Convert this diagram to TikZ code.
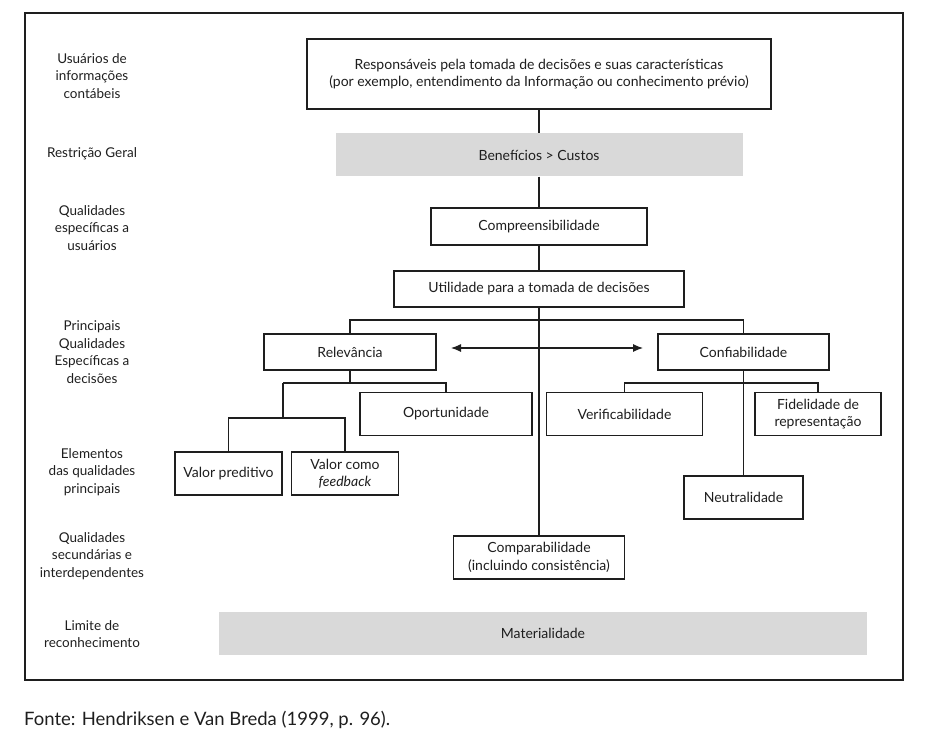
\documentclass[tikz,border=0pt]{standalone}
\usepackage{fontspec}
\setmainfont{Lato}
\usetikzlibrary{arrows.meta}
\definecolor{boxgray}{RGB}{217,217,217}
\definecolor{ink}{RGB}{30,30,30}
\tikzset{
  box/.style={draw=ink, line width=1.1pt, fill=white, align=center, inner sep=0pt, font=\fontsize{14}{17.5}\selectfont, text=ink},
  graybox/.style={fill=boxgray, align=center, inner sep=0pt, font=\fontsize{14}{17.5}\selectfont, text=ink},
  lab/.style={align=center, font=\fontsize{13.5}{17.7}\selectfont, text=ink},
  conn/.style={draw=ink, line width=1.1pt},
}
\begin{document}
\begin{tikzpicture}[x=1pt,y=-1pt]
\useasboundingbox (0,0) rectangle (947,738);
\draw[ink, line width=1.1pt] (25,13) rectangle (903,680);
% left labels
\node[lab] (l1) at (92,76) {Usuários de\\informações\\contábeis};
\node[lab] (l2) at (92,154) {Restrição Geral};
\node[lab] (l3) at (92,228) {Qualidades\\específicas a\\usuários};
\node[lab] (l4) at (92,352) {Principais\\Qualidades\\Específicas a\\decisões};
\node[lab] (l5) at (92,472) {Elementos\\das qualidades\\principais};
\node[lab] (l6) at (92,556) {Qualidades\\secundárias e\\interdependentes};
\node[lab] (l7) at (92,634) {Limite de\\reconhecimento};
% boxes
\node[box, minimum width=464, minimum height=70] (top) at (539,74) {Responsáveis pela tomada de decisões e suas características\\(por exemplo, entendimento da Informação ou conhecimento prévio)};
\node[graybox, minimum width=407, minimum height=43] (ben) at (539,155) {Benefícios > Custos};
\node[box, minimum width=216, minimum height=37] (compr) at (539,226.5) {Compreensibilidade};
\node[box, minimum width=290, minimum height=36] (util) at (539,289) {Utilidade para a tomada de decisões};
\node[box, minimum width=172, minimum height=36] (rel) at (350,352) {Relevância};
\node[box, minimum width=171, minimum height=36] (conf) at (743.5,352) {Confiabilidade};
\node[box, minimum width=172, minimum height=43] (opor) at (446,414) {Oportunidade};
\node[box, minimum width=107, minimum height=43] (vp) at (228.5,473.5) {Valor preditivo};
\node[box, minimum width=107, minimum height=43] (fb) at (345,473.5) {Valor como\\\textit{feedback}};
\node[box, minimum width=156, minimum height=43] (verif) at (624.5,414) {Verificabilidade};
\node[box, minimum width=126, minimum height=43] (fid) at (818,414) {Fidelidade de\\representação};
\node[box, minimum width=119, minimum height=43] (neut) at (743.5,497.5) {Neutralidade};
\node[box, minimum width=171, minimum height=43] (comp) at (539,557.5) {Comparabilidade\\(incluindo consistência)};
\node[graybox, minimum width=648, minimum height=43] (mat) at (543,633.5) {Materialidade};
% connectors
\draw[conn] (top) -- (ben);
\draw[conn] (ben) -- (compr);
\draw[conn] (compr) -- (util);
\draw[conn] (util.south) -- (comp.north);
\coordinate (j1) at (539,320);
\draw[conn] (rel.north) |- (j1) -| (conf.north);
\coordinate (aL) at (451,348);
\coordinate (aR) at (643,348);
\draw[conn, {Latex[length=10pt,width=8pt]}-{Latex[length=10pt,width=8pt]}] (aL) -- (aR);
\coordinate (j2) at (350,383);
\coordinate (j3) at (283,383);
\coordinate (j4) at (283,418);
\draw[conn] (rel.south) -- (j2);
\draw[conn] (j3) -| (opor.north);
\draw[conn] (j3) -- (j4);
\draw[conn] (vp.north) |- (j4) -| (fb.north);
\draw[conn] (conf.south) -- (neut.north);
\coordinate (j5) at (743.5,383);
\draw[conn] (verif.north) |- (j5) -| (fid.north);
% source
\node[anchor=base west, font=\fontsize{18.5}{20}\selectfont, text=ink, inner sep=0pt] (src) at (24,725) {Fonte: Hendriksen e Van Breda (1999, p. 96).};
\end{tikzpicture}
\end{document}
